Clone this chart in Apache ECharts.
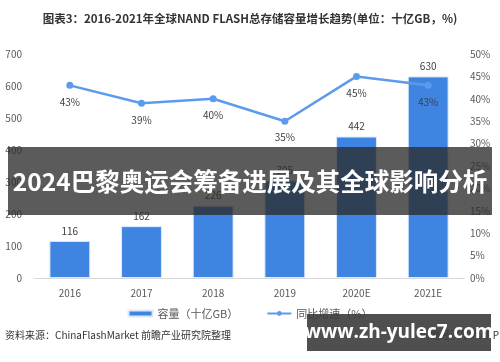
<!DOCTYPE html>
<html>
<head>
<meta charset="utf-8">
<script src="https://cdn.jsdelivr.net/npm/echarts@6/dist/echarts.min.js"></script>
<style>
html,body{margin:0;padding:0;background:#fff;}
#c{width:500px;height:362px;}
</style>
</head>
<body>
<div id="c"></div>
<script>
const categories = ['2016', '2017', '2018', '2019', '2020E', '2021E'];
const capacity = [116, 162, 226, 305, 442, 630];
const growth = [43, 39, 40, 35, 45, 43];
const leftTicks = [0, 700, 100];
const rightTicks = [0, 50, 5];

const FONT = '"Noto Sans CJK SC","Noto Sans",sans-serif';
const chart = echarts.init(document.getElementById('c'));
chart.setOption({
  animation: false,
  textStyle: { fontFamily: FONT },
  title: {
    text: '图表3：2016-2021年全球NAND FLASH总存储容量增长趋势(单位：十亿GB，%)',
    left: 'center', top: 8,
    textStyle: { fontSize: 11.5, fontWeight: 'bold', color: '#333', fontFamily: FONT }
  },
  grid: { left: 34, right: 36, top: 54, bottom: 84 },
  legend: {
    bottom: 38, left: 'center', itemGap: 28,
    textStyle: { fontSize: 11, color: '#595959' },
    data: [
      { name: '容量（十亿GB）', icon: 'rect', itemStyle: { color: '#3E84E0' } },
      { name: '同比增速（%）' }
    ],
    itemWidth: 24, itemHeight: 6
  },
  xAxis: {
    type: 'category', data: categories,
    axisLine: { lineStyle: { color: '#D9D9D9', width: 1 } },
    axisTick: { show: false },
    axisLabel: { color: '#595959', fontSize: 10, margin: 10 }
  },
  yAxis: [
    {
      type: 'value', min: leftTicks[0], max: leftTicks[1], interval: leftTicks[2],
      axisLine: { show: false }, axisTick: { show: false },
      splitLine: { show: false },
      axisLabel: { color: '#595959', fontSize: 10, margin: 12 }
    },
    {
      type: 'value', min: rightTicks[0], max: rightTicks[1], interval: rightTicks[2],
      axisLine: { show: false }, axisTick: { show: false },
      splitLine: { show: false },
      axisLabel: { color: '#595959', fontSize: 10, formatter: '{value}%', margin: 6 }
    }
  ],
  series: [
    {
      name: '容量（十亿GB）', type: 'bar', data: capacity, barWidth: '57%',
      itemStyle: { color: '#3E84E0', borderColor: '#DCE9F9', borderWidth: 1 },
      label: { show: true, position: 'top', color: '#404040', fontSize: 10, distance: 5 }
    },
    {
      name: '同比增速（%）', type: 'line', yAxisIndex: 1, data: growth,
      z: 5,
      lineStyle: { color: '#5B9BEE', width: 2.5 },
      itemStyle: { color: '#5B9BEE' },
      symbol: 'circle', symbolSize: 7,
      label: { show: true, position: 'bottom', distance: 8, color: '#404040', fontSize: 10, formatter: '{c}%' }
    }
  ],
  graphic: [
    {
      type: 'text', right: 1, top: 330,
      style: { text: '前瞻经济学人APP', fontSize: 10, fill: '#333', fontFamily: FONT }
    },
    {
      type: 'text', left: 5, top: 330,
      style: { text: '资料来源：ChinaFlashMarket 前瞻产业研究院整理', fontSize: 10, fill: '#333', fontFamily: FONT }
    },
    {
      type: 'rect', shape: { x: 8, y: 147, width: 484, height: 68 },
      style: { fill: 'rgba(45,45,45,0.78)' }, z: 100
    },
    {
      type: 'text', x: 250, y: 182, z: 101,
      style: {
        text: '2024巴黎奥运会筹备进展及其全球影响分析',
        fontSize: 24.5, fontWeight: 'bold', fill: '#fff',
        textAlign: 'center', textVerticalAlign: 'middle', fontFamily: FONT
      }
    },
    {
      type: 'rect', shape: { x: 307, y: 314, width: 184, height: 37 },
      style: { fill: 'rgba(60,60,60,0.9)' }, z: 100
    },
    {
      type: 'text', x: 399, y: 333, z: 101,
      style: {
        text: 'www.zh-yulec7.com',
        fontSize: 19, fontWeight: 'bold', fill: '#fff',
        textAlign: 'center', textVerticalAlign: 'middle', fontFamily: '"Open Sans","DejaVu Sans",sans-serif'
      }
    }
  ]
});
</script>
</body>
</html>
